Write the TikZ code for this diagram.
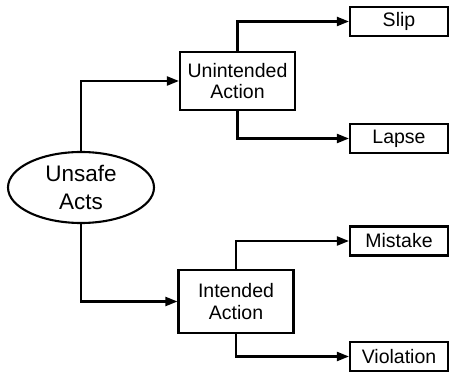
\documentclass[tikz,border=0pt]{standalone}
\usepackage{fontspec}
\setmainfont{Liberation Sans}
\usetikzlibrary{arrows.meta,shapes.geometric}
\begin{document}
\begin{tikzpicture}[x=1pt,y=1pt,
  box/.style={draw,line width=2.1pt,inner sep=0pt,align=center,font=\fontsize{19.5}{21.5}\selectfont},
  leaf/.style={box,minimum width=98pt,minimum height=29pt},
  mid/.style={box,minimum width=115pt},
  conn/.style={line width=2.1pt,-{Triangle[length=12pt,width=9pt]}}]
\useasboundingbox (0,0) rectangle (449,374);
\node[draw,ellipse,line width=2.1pt,minimum width=146pt,minimum height=71pt,inner sep=0pt,align=center,font=\fontsize{22.5}{27.5}\selectfont] (e) at (81,186.5) {Unsafe\\Acts};
\node[mid,minimum height=58pt] (u) at (237.5,293) {Unintended\\Action};
\node[mid,minimum height=63pt] (i) at (236,72.5) {Intended\\Action};
\node[leaf] (s) at (399,352.5) {Slip};
\node[leaf] (l) at (399,235.5) {Lapse};
\node[leaf] (m) at (399,133) {Mistake};
\node[leaf] (v) at (399,17.5) {Violation};
\draw[conn] (e.north) |- (u.west);
\draw[conn] (e.south) |- (i.west);
\draw[conn] (u.north) |- (s.west);
\draw[conn] (u.south) |- (l.west);
\draw[conn] (i.north) |- (m.west);
\draw[conn] (i.south) |- (v.west);
\end{tikzpicture}
\end{document}
